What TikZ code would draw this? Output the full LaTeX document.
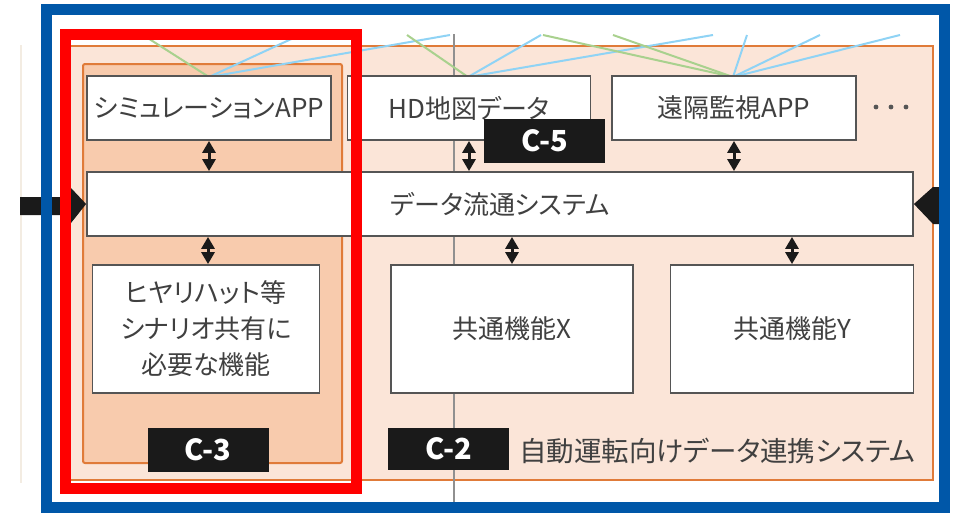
\documentclass[tikz,border=0pt]{standalone}
\usepackage{fontspec}
\newfontfamily\jp[RawFeature=+palt]{Noto Sans CJK JP}
\usetikzlibrary{arrows.meta}
\definecolor{frameblue}{HTML}{0057A8}
\definecolor{framered}{HTML}{FF0000}
\definecolor{orangeline}{HTML}{E07B39}
\definecolor{peachlight}{HTML}{FBE5D8}
\definecolor{peachdark}{HTML}{F8CBAD}
\definecolor{boxline}{HTML}{555555}
\definecolor{txt}{HTML}{404040}
\definecolor{lnblue}{HTML}{8FD3F5}
\definecolor{lngreen}{HTML}{A9D18E}
\definecolor{tagblack}{HTML}{1A1A1A}
\definecolor{sepgray}{HTML}{909090}
\definecolor{faint}{HTML}{F3ECE2}
\tikzset{
  whitebox/.style={draw=boxline, line width=1.8pt, fill=white, inner sep=0pt,
    text=txt, font=\jp\fontsize{26}{36}\selectfont, align=center},
  tag/.style={fill=tagblack, inner sep=0pt, minimum height=44pt, minimum width=121pt,
    text=white, font=\jp\bfseries\fontsize{29}{30}\selectfont},
  dblarrow/.style={line width=3pt, tagblack, {Triangle[length=12pt,width=13pt]}-{Triangle[length=12pt,width=13pt]}},
  bluelink/.style={lnblue, line width=2pt},
  greenlink/.style={lngreen, line width=2pt},
  bigarrow/.style={fill=tagblack, draw=none}
}
\begin{document}
\begin{tikzpicture}[x=1pt,y=-1pt]
\useasboundingbox (0,0) rectangle (953,512);
\fill[white] (0,0) rectangle (953,512);
% faint left line
\draw[faint, line width=1.5pt] (21,45) -- (21,483);
% system frames
\draw[orangeline, line width=2pt, fill=peachlight] (66,46) rectangle (933,480);
\draw[sepgray, line width=1.2pt] (454,34) -- (454,506);
\draw[orangeline, line width=2pt, fill=peachdark, rounded corners=2pt] (83,64) rectangle (342,463);
% top links
\begin{scope}
\clip (60,34) rectangle (940,200);
\coordinate (s) at (209,77);
\coordinate (h) at (468,77);
\coordinate (r) at (733,77);
\draw[greenlink] (s) -- (143,35);
\draw[bluelink] (s) -- (300,35);
\draw[bluelink] (s) -- (450,35);
\draw[greenlink] (h) -- (407,35);
\draw[bluelink] (h) -- (541,35);
\draw[bluelink] (h) -- (713,35);
\draw[greenlink] (r) -- (543,35);
\draw[greenlink] (r) -- (613,35);
\draw[bluelink] (r) -- (747,35);
\draw[bluelink] (r) -- (820,35);
\draw[bluelink] (r) -- (900,35);
\end{scope}
% boxes
\node[whitebox, minimum width=244pt, minimum height=64pt] (sim) at (209,108) {シミュレーションAPP};
\node[whitebox, minimum width=243pt, minimum height=64pt] (hd) at (469,108) {HD地図データ};
\node[whitebox, minimum width=244pt, minimum height=64pt] (rem) at (734,108) {遠隔監視APP};
\node[whitebox, minimum width=826pt, minimum height=64pt] (data) at (500,204) {データ流通システム};
\node[whitebox, minimum width=227pt, minimum height=128pt] (hiy) at (206,329) {ヒヤリハット等\\シナリオ共有に\\必要な機能};
\node[whitebox, minimum width=242pt, minimum height=128pt] (fx) at (512,329) {共通機能X};
\node[whitebox, minimum width=243pt, minimum height=128pt] (fy) at (792,329) {共通機能Y};
% dots
\node[inner sep=0pt, minimum size=8pt] (dots) at (891,107) {};
\fill[boxline] (dots.center) ++(-15,0) circle (2.4pt) (dots.center) circle (2.4pt) ++(15,0) circle (2.4pt);
% arrows
\draw[dblarrow] (sim.south) -- (sim.south |- data.north);
\draw[dblarrow] (hd.south) -- (hd.south |- data.north);
\draw[dblarrow] (rem.south) -- (rem.south |- data.north);
\draw[dblarrow] (data.south -| 208,0) -- (208,0 |- hiy.north);
\draw[dblarrow] (data.south -| fx.north) -- (fx.north);
\draw[dblarrow] (data.south -| fy.north) -- (fy.north);
% side big arrows
\fill[bigarrow] (20,197) -- (71,197) -- (71,188) -- (data.west) -- (71,223) -- (71,215) -- (20,215) -- cycle;
\fill[bigarrow] (data.east) -- (933,187) -- (945,187) -- (945,224) -- (933,224) -- cycle;
% tags
\node[tag] (c5) at (544.5,141) {C-5};
\node[tag] (c3) at (208,450) {C-3};
\node[tag, minimum height=42pt] (c2) at (448.5,449) {C-2};
\node[anchor=west, inner sep=0pt, text=txt, font=\jp\fontsize{27.5}{30}\selectfont] (sys) at (519,451) {自動運転向けデータ連携システム};
% highlight frames
\draw[framered, line width=11pt] (65,34) rectangle (356,488);
\draw[frameblue, line width=11pt] (46.5,9.5) rectangle (944,507);
\end{tikzpicture}
\end{document}
